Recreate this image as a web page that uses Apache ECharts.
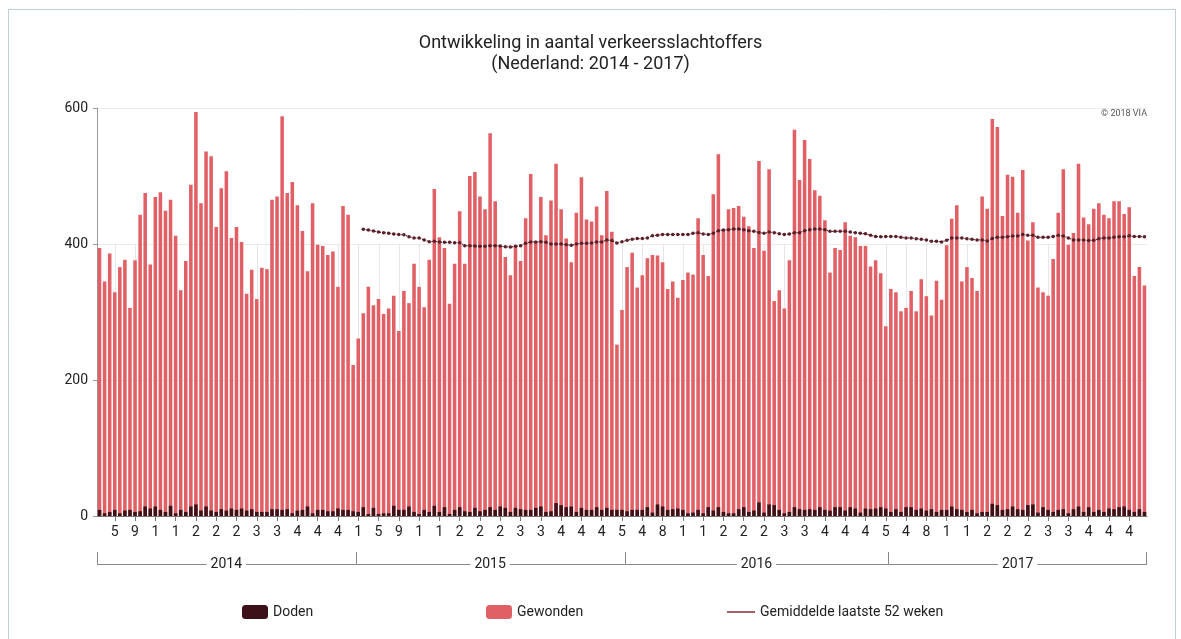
<!DOCTYPE html>
<html><head><meta charset="utf-8">
<script src="https://cdn.jsdelivr.net/npm/echarts@6/dist/echarts.min.js"></script>
<style>html,body{margin:0;padding:0;background:#fff}#c{width:1181px;height:639px}</style>
</head><body><div id="c"></div>
<script>
// [year, first week, last week]
const yearSpans = [[2014, 2, 52], [2015, 1, 53], [2016, 1, 52], [2017, 1, 51]];
const yTicks = [0, 200, 400, 600];

const gewonden = [
  394,345,386,329,366,377,306,376,443,475, 370,469,476,449,465,412,332,375,487,594,
  460,536,529,425,482,507,409,425,403,327, 362,319,365,363,465,470,588,475,491,457,
  419,360,460,399,397,384,389,337,456,443, 222,
  261,298,337,310,319,297,305,324,272,331, 313,371,337,307,377,481,410,394,312,371,
  448,371,500,506,470,451,563,463,396,381, 354,398,375,438,503,403,469,413,464,518,
  451,408,373,446,498,436,433,455,413,478, 418,252,303,
  366,387,336,354,379,384,383,373,334,345, 321,347,358,355,438,384,353,473,532,420,
  451,453,456,440,426,394,522,390,510,316, 332,305,376,568,494,553,525,479,471,435,
  358,394,391,432,412,410,397,397,367,376, 357,279,
  334,329,301,306,331,301,348,323,295,346, 318,398,437,457,345,366,350,331,470,452,
  584,572,441,502,499,446,509,405,432,336, 329,324,378,446,510,399,416,518,439,429,
  452,460,443,438,463,463,444,454,353,366, 339
];

const doden = [
  9,4,6,9,4,8,9,6,7,14, 11,14,9,6,15,4,9,6,14,17, 8,14,8,6,10,8,11,9,11,8,
  10,6,6,6,10,10,9,10,4,8, 9,14,4,9,9,7,7,11,9,9,
  7,6,13,3,12,3,4,4,15,9, 9,14,6,3,9,6,15,6,13,3, 9,13,7,6,12,7,9,13,9,14,
  12,6,12,10,9,9,12,14,6,7, 19,16,13,14,6,12,9,9,13,9, 12,9,9,9,7,
  9,9,9,13,5,17,14,9,10,11, 9,4,5,9,4,13,8,13,6,4, 4,10,13,6,8,20,5,17,16,9, 4,6,13,
  10,9,10,9,13,9,8,13,13,8, 13,11,5,11,10,11,13,11,6,10, 6,13,13,9,11,8,10,6,9,9,
  14,10,9,6,9,4,6,6,18,16, 9,10,14,10,9,16,17,5,13,9, 6,9,10,4,10,14,6,13,6,9,
  6,11,10,13,14,9,6,10,6
];

// 52-week average, starting at 2015 week 2
const avgStartWeek = '2015-W02';
const gemiddelde = [
  421.6,420.6,419,417.6,416.7,415.7,414.7,414,413.7,410.8, 409,408.8,406,403.4,404,403,402.5,402.5,402,402,
  397.5,397.5,397,396.6,396.6,397.5,397.5,397,396,395.6, 396.6,397.5,401,403,403,403.4,402.5,400,400,400,
  399,398,400,401,401,401.5,403,403,406,405, 401.5,403.4,405.4,
  407,408,408,409,412,413,414,414,414,414, 414,414,415.7,416.7,414.7,414,415.7,419.6,420.6,421,
  422,422,421,419.6,418.6,417,415.7,417.6,416.7,415, 414,414.7,416.7,416.7,419.6,421,422,422,421,418.6,
  418.6,418.6,418.6,417.6,416.7,415.7,415,413,411,410.8, 411,411,411,
  409.8,409,409,407.8,406.9,406,404,404,403,405.4, 408.8,409,408.8,407.8,406.9,406,406,404.4,408,409.8,
  410,410.8,411.8,411.8,414,412.7,412.7,409.8,409.8,409.8, 411,412.7,411.8,408.8,406,406,406,405,405.4,407.8,
  409,409,409.8,410.8,410.8,412,411,411,410.8
];

const categories = [];
yearSpans.forEach(([y, a, b]) => { for (let w = a; w <= b; w++) categories.push(y + '-W' + String(w).padStart(2, '0')); });
const avgStart = categories.indexOf(avgStartWeek);
const avgData = gemiddelde.map((v, i) => [avgStart + i, v]);

const labelEvery = (i) => i % 4 === 3;
const FONT = 'Roboto, "Noto Sans", sans-serif';

const chart = echarts.init(document.getElementById('c'), null, { renderer: 'canvas' });
const legendBase = { orient: 'horizontal', top: 600, itemWidth: 26, itemHeight: 14, itemGap: 8,
  textStyle: { fontFamily: FONT, fontSize: 14, color: '#222' } };

chart.setOption({
  animation: false,
  backgroundColor: '#fff',
  title: {
    text: 'Ontwikkeling in aantal verkeersslachtoffers\n(Nederland: 2014 - 2017)',
    left: 'center', top: 28,
    textStyle: { fontFamily: FONT, fontSize: 18, fontWeight: 'normal', color: '#222', lineHeight: 21 }
  },
  legend: [
    Object.assign({}, legendBase, { left: 237, data: ['Doden'] }),
    Object.assign({}, legendBase, { left: 481, data: ['Gewonden'] }),
    Object.assign({}, legendBase, { left: 722, itemWidth: 28, itemHeight: 1.5,
      data: [{ name: 'Gemiddelde laatste 52 weken', icon: 'rect', itemStyle: { color: '#8c2a35' } }] })
  ],
  grid: { left: 97, right: 34, top: 108, bottom: 123, containLabel: false },
  xAxis: {
    type: 'category', data: categories, boundaryGap: true,
    axisLine: { lineStyle: { color: '#777', width: 1 } },
    axisTick: { show: true, interval: labelEvery, alignWithLabel: true, length: 5, lineStyle: { color: '#777' } },
    axisLabel: { interval: labelEvery, margin: 9, fontFamily: FONT, fontSize: 14, color: '#222',
      formatter: (v) => String(parseInt(v.split('-W')[1], 10)).charAt(0) },
    splitLine: { show: false }
  },
  yAxis: {
    type: 'value', min: yTicks[0], max: yTicks[yTicks.length - 1], interval: 200,
    axisLine: { show: true, lineStyle: { color: '#999' } },
    axisTick: { show: true, length: 4, lineStyle: { color: '#999' } },
    axisLabel: { margin: 9, fontFamily: FONT, fontSize: 14, color: '#222' },
    splitLine: { lineStyle: { color: '#ebebeb' } }
  },
  series: [
    { name: 'Gewonden', type: 'bar', data: gewonden, barWidth: '70%', barGap: '-100%',
      itemStyle: { color: '#e06066' }, z: 3 },
    { name: 'Doden', type: 'bar', data: doden, barWidth: '70%', barGap: '-100%',
      itemStyle: { color: '#3c1117' }, z: 4 },
    { name: 'Gemiddelde laatste 52 weken', type: 'line', data: avgData,
      symbol: 'circle', symbolSize: 3.5, showSymbol: true, showAllSymbol: true,
      itemStyle: { color: '#5b1f2a' }, lineStyle: { color: '#5b1f2a', width: 1.2, type: 'dotted' }, z: 6 }
  ]
});

// decorations computed from the axis scales
function px(i) { return chart.convertToPixel({ xAxisIndex: 0 }, i); }
function py(v) { return chart.convertToPixel({ yAxisIndex: 0 }, v); }
const n = categories.length;
const band = px(1) - px(0);
const g = [];
// frame
g.push({ type: 'polyline', shape: { points: [[8.5, 700], [8.5, 9.5], [1175.5, 9.5], [1175.5, 700]] },
  style: { stroke: '#bccfdc', fill: null, lineWidth: 1 }, silent: true, z: 0 });
// faint vertical guides at labelled weeks, from 0 up to 400
for (let i = 0; i < n; i++) {
  if (!labelEvery(i)) continue;
  const x = Math.round(px(i)) + 0.5;
  g.push({ type: 'line', shape: { x1: x, y1: py(0), x2: x, y2: py(400) },
    style: { stroke: '#e6e6e6', lineWidth: 1 }, z: 1, silent: true });
}
// year grouping
const yLine = 564, yTop = 552;
let start = 0;
yearSpans.forEach(([y, a, b], k) => {
  const cnt = b - a + 1;
  const x0 = px(start) - band / 2, x1 = px(start + cnt - 1) + band / 2;
  g.push({ type: 'line', shape: { x1: Math.round(x0) + 0.5, y1: yTop, x2: Math.round(x0) + 0.5, y2: yLine },
    style: { stroke: '#888', lineWidth: 1 }, silent: true });
  if (k === yearSpans.length - 1) {
    g.push({ type: 'line', shape: { x1: Math.round(x1) - 0.5, y1: yTop, x2: Math.round(x1) - 0.5, y2: yLine },
      style: { stroke: '#888', lineWidth: 1 }, silent: true });
  }
  g.push({ type: 'line', shape: { x1: x0, y1: yLine + 0.5, x2: x1, y2: yLine + 0.5 },
    style: { stroke: '#888', lineWidth: 1 }, silent: true });
  g.push({ type: 'text', x: (x0 + x1) / 2, y: yLine, z: 10,
    style: { text: String(y), fontFamily: FONT, fontSize: 14, fill: '#222', align: 'center', verticalAlign: 'middle',
      backgroundColor: '#fff', padding: [0, 4] }, silent: true });
  start += cnt;
});
// copyright
g.push({ type: 'text', x: px(n - 1) + band / 2, y: 114, style: { text: '\u00A9 2018 VIA', fontFamily: FONT, fontSize: 9,
  fill: '#555', align: 'right', verticalAlign: 'middle' }, silent: true });
chart.setOption({ graphic: g });
</script></body></html>
